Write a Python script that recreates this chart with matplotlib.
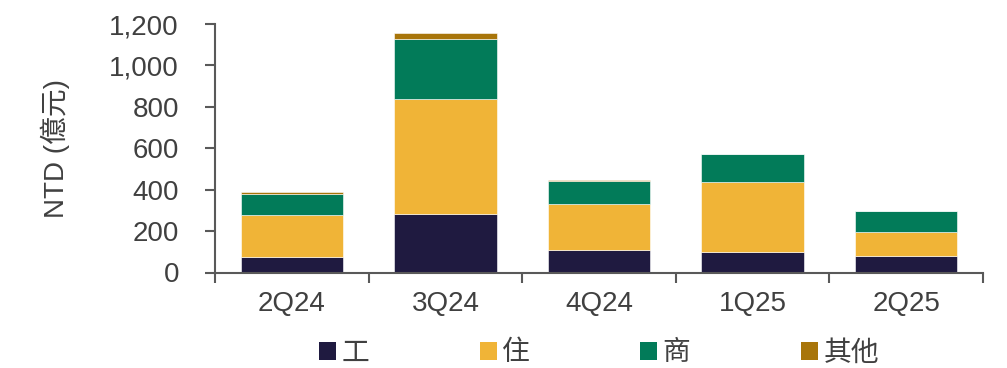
import numpy as np
import matplotlib
matplotlib.use('Agg')
import matplotlib.pyplot as plt
from matplotlib.patches import Patch

plt.rcParams['font.family'] = ['Liberation Sans', 'Noto Sans CJK TC', 'DejaVu Sans']

quarters = ['2Q24', '3Q24', '4Q24', '1Q25', '2Q25']
series = ['工', '住', '商', '其他']
gong = [74, 282, 111, 97, 81]
zhu = [205, 554, 220, 339, 113]
shang = [102, 290, 111, 134, 101]
other = [8, 29, 7, 2, 1]
colors = ['#1f1a40', '#f0b437', '#027b59', '#a8750a']

text_col = '#404040'
axis_col = '#595959'
fs = 20

fig = plt.figure(figsize=(10.07, 3.68), dpi=100)
ax = fig.add_axes([215/1007, 1 - 272.5/368, (983 - 215)/1007, (272.5 - 24)/368])

x = np.arange(len(quarters))
bottom = np.zeros(len(quarters))
for vals, col in zip([gong, zhu, shang, other], colors):
    ax.bar(x, vals, width=0.667, bottom=bottom, color=col, edgecolor='white', linewidth=0.4)
    bottom += np.array(vals)

ax.set_xlim(-0.5, len(quarters) - 0.5)
ax.set_ylim(0, 1200)
ax.set_yticks(np.arange(0, 1201, 200))
ax.set_yticklabels([f'{v:,}' for v in range(0, 1201, 200)])
ax.set_xticks(x)
ax.set_xticklabels(quarters)
ax.set_xticks(np.arange(-0.5, len(quarters)), minor=True)

ax.tick_params(axis='y', direction='out', length=7, width=1.5, color=axis_col,
               labelsize=fs, labelcolor=text_col, pad=19)
ax.tick_params(axis='x', which='major', length=0, labelsize=fs, labelcolor=text_col, pad=13)
ax.tick_params(axis='x', which='minor', direction='out', length=7, width=1.5, color=axis_col)

for s in ['top', 'right']:
    ax.spines[s].set_visible(False)
for s in ['left', 'bottom']:
    ax.spines[s].set_color(axis_col)
    ax.spines[s].set_linewidth(1.5)

ax.set_ylabel('NTD (億元)', fontsize=fs, color=text_col, labelpad=28)

handles = [Patch(facecolor=c, edgecolor='none') for c in colors]
fig.legend(handles, series, loc='center', bbox_to_anchor=(599/1007, 1 - 353.5/368), ncol=4,
           frameon=False, fontsize=fs, labelcolor=text_col, handlelength=0.61, handleheight=0.61,
           handletextpad=0.2, columnspacing=3.97, borderaxespad=0)

fig.savefig('out.png', dpi=100)
